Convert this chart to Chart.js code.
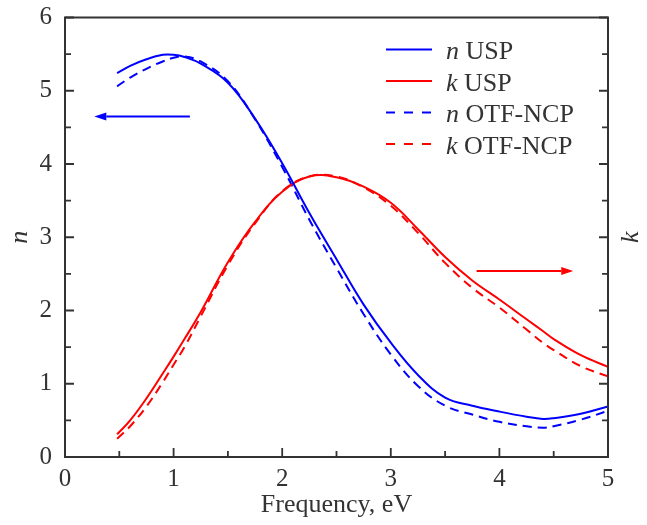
<!DOCTYPE html>
<html>
<head>
<meta charset="utf-8">
<style>
  html, body { margin: 0; padding: 0; background: #fff; }
  #wrap { width: 647px; height: 525px; }
</style>
<script src="https://cdn.jsdelivr.net/npm/chart.js@4.4.1/dist/chart.umd.min.js"></script>
</head>
<body>
<div id="wrap"><canvas id="chart" width="647" height="525"></canvas></div>
<script>
// Optical constants n, k vs photon energy: USP (solid) vs OTF-NCP (dashed).
const freq   = [0.48, 0.6, 0.75, 0.9, 1.0, 1.1, 1.25, 1.5, 1.75, 2.0, 2.25, 2.5, 2.75, 3.0, 3.25, 3.5, 3.75, 4.0, 4.25, 4.4, 4.5, 4.75, 5.0];
const nUSP   = [5.24, 5.34, 5.43, 5.49, 5.49, 5.46, 5.37, 5.11, 4.62, 4.01, 3.33, 2.70, 2.08, 1.56, 1.12, 0.81, 0.70, 0.62, 0.55, 0.52, 0.53, 0.59, 0.69];
const kUSP   = [0.31, 0.50, 0.80, 1.14, 1.37, 1.61, 1.98, 2.66, 3.21, 3.62, 3.83, 3.82, 3.69, 3.47, 3.11, 2.73, 2.41, 2.15, 1.88, 1.72, 1.61, 1.39, 1.23];
const nOTF   = [5.06, 5.18, 5.30, 5.40, 5.45, 5.47, 5.40, 5.13, 4.61, 3.96, 3.24, 2.58, 1.95, 1.40, 0.97, 0.70, 0.58, 0.48, 0.42, 0.40, 0.42, 0.51, 0.63];
const kOTF   = [0.25, 0.42, 0.69, 1.02, 1.26, 1.50, 1.92, 2.62, 3.19, 3.63, 3.83, 3.83, 3.68, 3.43, 3.06, 2.65, 2.31, 2.04, 1.74, 1.56, 1.46, 1.24, 1.10];

// Arrows pointing to the axis each family belongs to: [xFrom, xTo, y]
const arrowN = [1.15, 0.27, 4.65];
const arrowK = [3.79, 4.68, 2.54];

const BLUE = '#0000ff';
const RED = '#ff0000';
const AXIS = '#333333';
const TEXT = '#333333';
const FONT = '"Liberation Serif", "Times New Roman", serif';
const DASH = [9, 6];

const pts = (ys) => freq.map((x, i) => ({ x, y: ys[i] }));

function drawArrow(ctx, x1, x2, y, color) {
  const dir = Math.sign(x2 - x1);
  const head = 12, half = 4;
  ctx.strokeStyle = color;
  ctx.fillStyle = color;
  ctx.lineWidth = 2;
  ctx.setLineDash([]);
  ctx.beginPath();
  ctx.moveTo(x1, y);
  ctx.lineTo(x2 - dir * head, y);
  ctx.stroke();
  ctx.beginPath();
  ctx.moveTo(x2, y);
  ctx.lineTo(x2 - dir * head, y - half);
  ctx.lineTo(x2 - dir * head, y + half);
  ctx.closePath();
  ctx.fill();
}

const decorPlugin = {
  id: 'decor',
  afterDatasetsDraw(chart) {
    const { ctx, chartArea: a, scales } = chart;
    ctx.save();

    // frame + inward ticks (longer at integers)
    ctx.strokeStyle = AXIS;
    ctx.lineWidth = 2;
    ctx.strokeRect(a.left, a.top, a.right - a.left, a.bottom - a.top);
    ctx.lineWidth = 1.8;
    ctx.beginPath();
    scales.x.ticks.forEach((t) => {
      const px = scales.x.getPixelForValue(t.value);
      const len = Number.isInteger(t.value) ? 9 : 6;
      ctx.moveTo(px, a.bottom);
      ctx.lineTo(px, a.bottom - len);
    });
    scales.y.ticks.forEach((t) => {
      const py = scales.y.getPixelForValue(t.value);
      const len = Number.isInteger(t.value) ? 9 : 6;
      ctx.moveTo(a.left, py);
      ctx.lineTo(a.left + len, py);
    });
    scales.y2.ticks.forEach((t) => {
      const py = scales.y2.getPixelForValue(t.value);
      const len = Number.isInteger(t.value) ? 9 : 6;
      ctx.moveTo(a.right, py);
      ctx.lineTo(a.right - len, py);
    });
    ctx.stroke();

    // arrows
    const xs = scales.x, ys = scales.y;
    drawArrow(ctx, xs.getPixelForValue(arrowN[0]), xs.getPixelForValue(arrowN[1]), ys.getPixelForValue(arrowN[2]), BLUE);
    drawArrow(ctx, xs.getPixelForValue(arrowK[0]), xs.getPixelForValue(arrowK[1]), ys.getPixelForValue(arrowK[2]), RED);

    // legend: sample line, italic symbol, regular rest
    const lx = 386, lw = 46, tx = 446, y0 = 49.5, dy = 31.5;
    chart.data.datasets.forEach((ds, i) => {
      const y = y0 + i * dy;
      ctx.strokeStyle = ds.borderColor;
      ctx.lineWidth = 2;
      ctx.setLineDash(ds.borderDash && ds.borderDash.length ? [9, 9] : []);
      ctx.beginPath();
      ctx.moveTo(lx, y);
      ctx.lineTo(lx + lw, y);
      ctx.stroke();
      ctx.setLineDash([]);
      const sym = ds.label.split(' ')[0];
      const rest = ds.label.slice(sym.length);
      ctx.fillStyle = TEXT;
      ctx.textBaseline = 'alphabetic';
      ctx.textAlign = 'left';
      ctx.font = 'italic 26px ' + FONT;
      ctx.fillText(sym, tx, y + 9.5);
      const w = ctx.measureText(sym).width;
      ctx.font = '26px ' + FONT;
      ctx.fillText(rest, tx + w, y + 9.5);
    });

    // right axis title, rotated like the left one
    ctx.translate(631, (a.top + a.bottom) / 2);
    ctx.rotate(-Math.PI / 2);
    ctx.font = 'italic 26px ' + FONT;
    ctx.fillStyle = TEXT;
    ctx.textAlign = 'center';
    ctx.textBaseline = 'middle';
    ctx.fillText('k', 0, 0);

    ctx.restore();
  }
};

// Fixed axis boxes so the plot frame lands where the reference has it.
function fixVertical(width) {
  return (s) => { s.width = width; s.paddingTop = 0; s.paddingBottom = 0; };
}

new Chart(document.getElementById('chart'), {
  type: 'line',
  data: {
    datasets: [
      { label: 'n USP', data: pts(nUSP), borderColor: BLUE, borderWidth: 2, yAxisID: 'y' },
      { label: 'k USP', data: pts(kUSP), borderColor: RED, borderWidth: 2, yAxisID: 'y2' },
      { label: 'n OTF-NCP', data: pts(nOTF), borderColor: BLUE, borderWidth: 2, borderDash: DASH, yAxisID: 'y' },
      { label: 'k OTF-NCP', data: pts(kOTF), borderColor: RED, borderWidth: 2, borderDash: DASH, yAxisID: 'y2' }
    ]
  },
  options: {
    responsive: false,
    animation: false,
    devicePixelRatio: 1,
    layout: { padding: { top: 17.5, left: 0, right: 0, bottom: 0 } },
    elements: {
      point: { radius: 0 },
      line: { tension: 0.4, fill: false }
    },
    plugins: { legend: { display: false }, tooltip: { enabled: false } },
    scales: {
      x: {
        type: 'linear', position: 'bottom', min: 0, max: 5,
        ticks: {
          stepSize: 0.5, autoSkip: false, maxRotation: 0, padding: 7,
          callback: (v) => (Number.isInteger(v) ? v : ''),
          font: { family: FONT, size: 25 }, color: TEXT
        },
        grid: { display: false, drawTicks: false },
        border: { display: false },
        title: { display: true, text: 'Frequency, eV', color: TEXT, font: { family: FONT, size: 26 }, padding: { top: 0, bottom: 4 } },
        afterFit: (s) => { s.height = 68; s.paddingLeft = 0; s.paddingRight = 0; }
      },
      y: {
        type: 'linear', position: 'left', min: 0, max: 6,
        ticks: {
          stepSize: 0.5, autoSkip: false, padding: 13,
          callback: (v) => (Number.isInteger(v) ? v : ''),
          font: { family: FONT, size: 25 }, color: TEXT
        },
        grid: { display: false, drawTicks: false },
        border: { display: false },
        title: { display: true, text: 'n', color: TEXT, font: { family: FONT, size: 26, style: 'italic' }, padding: { top: 5, bottom: 0 } },
        afterFit: fixVertical(65)
      },
      y2: {
        type: 'linear', position: 'right', min: 0, max: 6,
        ticks: { stepSize: 0.5, autoSkip: false, display: false },
        grid: { display: false, drawTicks: false },
        border: { display: false },
        afterFit: fixVertical(39)
      }
    }
  },
  plugins: [decorPlugin]
});
</script>
</body>
</html>
